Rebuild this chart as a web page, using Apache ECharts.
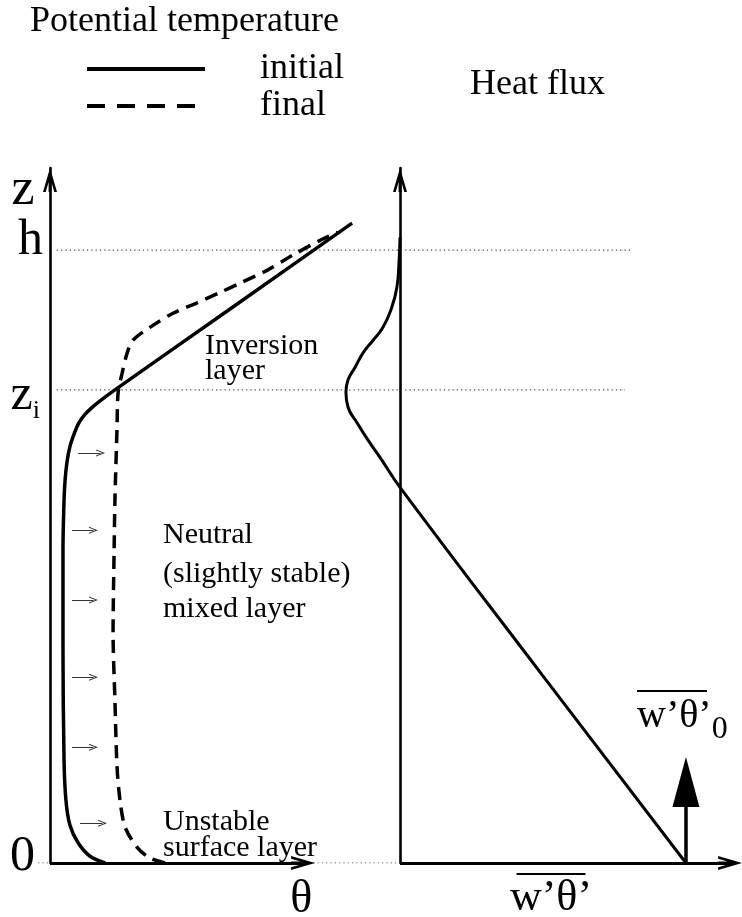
<!DOCTYPE html>
<html><head><meta charset="utf-8">
<script src="https://cdn.jsdelivr.net/npm/echarts@6/dist/echarts.min.js"></script>
<style>html,body{margin:0;padding:0;background:#fff}#c{width:742px;height:917px}</style>
</head><body><div id="c"></div><script>
const FONT = '"Liberation Serif", "Times New Roman", serif';

// Height levels (z, units with h = 10)
const zLevels = [0, 7.72, 10];          // 0, z_i, h
const zTop = 11.34;
// Panel ranges
const thetaRange = [-1, 22];
const fluxRange = [-2, 10];
const thetaAxisEnd = 9.55;   // end of the theta arrow
const fluxAxisEnd = 9.71;    // end of the flux arrow

// Potential temperature, initial profile
const initialTheta = [2.08,1.51,1.06,0.75,0.60,0.53,0.49,0.49,0.53,0.57,0.64,0.75,0.91,1.09,1.32,1.58,1.89,2.45,6.93,11.40];
const initialZ     = [0,0.11,0.33,0.62,1.03,1.68,3.47,5.11,5.92,6.25,6.54,6.79,7.00,7.18,7.32,7.43,7.54,7.72,9.08,10.44];

// Potential temperature, final profile
const finalTheta = [4.34,3.77,3.28,2.83,2.64,2.53,2.45,2.38,2.42,2.45,2.53,2.57,2.72,2.91,3.13,3.77,4.64,5.55,6.42,7.17,8.19,9.17,10.19,10.87];
const finalZ     = [0,0.08,0.26,0.59,1.03,1.57,2.66,3.75,5.11,5.92,7.11,7.67,7.99,8.32,8.53,8.74,8.97,9.14,9.31,9.46,9.67,9.92,10.16,10.29];

// Heat flux profile
const fluxValues = [8.41,4.18,0,-0.53,-0.94,-1.26,-1.53,-1.59,-1.53,-1.32,-1.09,-0.79,-0.50,-0.24,-0.09,-0.03,0];
const fluxZ      = [0,3.07,6.13,6.57,6.90,7.18,7.44,7.68,7.88,8.09,8.32,8.53,8.74,9.07,9.40,9.79,10.21];
const surfaceFlux = 8.41;
const surfaceArrowZ = 1.32;

// Warming arrows in the mixed layer
const arrowZ    = [6.69, 5.43, 4.29, 3.03, 1.89, 0.65];
const arrowFrom = [1.06, 0.83, 0.83, 0.83, 0.83, 1.13];
const arrowTo   = [1.91, 1.64, 1.64, 1.64, 1.64, 1.98];

// Dotted reference levels (theta units of the left panel)
const levelZ    = [10, 7.72, 0];
const levelFrom = [0.26, 0.26, -0.45];
const levelTo   = [21.96, 21.70, 13.2];

const OPEN_ARROW = 'path://M7,0 L14,24 L11.3,24 L7,9.3 L2.7,24 L0,24 Z M5.6,6 L8.4,6 L8.4,24 L5.6,24 Z';
const SMALL_ARROW = 'path://M3.5,0 L7,9 L6,9 L3.5,2.6 L1,9 L0,9 Z';

const zip = (a, b) => a.map((v, i) => [v, b[i]]);

const chart = echarts.init(document.getElementById('c'), null, { renderer: 'canvas' });

const series = [];
levelZ.forEach((z, i) => {
  series.push({
    type: 'line', xAxisIndex: 0, yAxisIndex: 0, silent: true, symbol: 'none', z: 1,
    lineStyle: { color: '#444', width: 1.2, type: [1.2, 3.1] },
    data: [[levelFrom[i], z], [levelTo[i], z]]
  });
});
series.push({
  name: 'initial', type: 'line', xAxisIndex: 0, yAxisIndex: 0, symbol: 'none', smooth: 0.3,
  lineStyle: { color: '#000', width: 3.5 }, itemStyle: { color: '#000' }, z: 3,
  data: zip(initialTheta, initialZ)
});
series.push({
  name: 'final', type: 'line', xAxisIndex: 0, yAxisIndex: 0, symbol: 'none', smooth: 0.3,
  lineStyle: { color: '#000', width: 3.5, type: [13, 8] }, itemStyle: { color: '#000' }, z: 3,
  data: zip(finalTheta, finalZ)
});
// theta axis arrow
series.push({
  type: 'line', xAxisIndex: 0, yAxisIndex: 0, data: [], symbol: 'none', silent: true, z: 4,
  markLine: {
    silent: true, animation: false, symbol: ['none', OPEN_ARROW], symbolSize: [14, 24],
    label: { show: false },
    lineStyle: { color: '#000', width: 3, type: 'solid' },
    data: [[{ coord: [0, 0] }, { coord: [thetaAxisEnd, 0] }]]
  }
});
// warming arrows
series.push({
  type: 'line', xAxisIndex: 0, yAxisIndex: 0, data: [], symbol: 'none', silent: true,
  markLine: {
    silent: true, animation: false, symbol: ['none', SMALL_ARROW], symbolSize: [7, 9],
    label: { show: false },
    lineStyle: { color: '#333', width: 1, type: 'solid' },
    data: arrowZ.map((z, i) => [{ coord: [arrowFrom[i], z] }, { coord: [arrowTo[i], z] }])
  }
});
series.push({
  name: 'heat flux', type: 'line', xAxisIndex: 1, yAxisIndex: 1, symbol: 'none', smooth: 0.5,
  lineStyle: { color: '#000', width: 3 }, z: 3,
  data: zip(fluxValues, fluxZ),
  markLine: {
    silent: true, animation: false, symbol: ['none', 'triangle'], symbolSize: [27, 50],
    lineStyle: { color: '#000', width: 3.5, type: 'solid' },
    label: { show: false },
    data: [[{ coord: [surfaceFlux, 0] }, { coord: [surfaceFlux, surfaceArrowZ] }]]
  }
});
// flux axis arrow
series.push({
  type: 'line', xAxisIndex: 1, yAxisIndex: 1, data: [], symbol: 'none', silent: true, z: 4,
  markLine: {
    silent: true, animation: false, symbol: ['none', OPEN_ARROW], symbolSize: [14, 24],
    label: { show: false },
    lineStyle: { color: '#000', width: 3, type: 'solid' },
    data: [[{ coord: [0, 0] }, { coord: [fluxAxisEnd, 0] }]]
  }
});

const bigLabel = { fontFamily: FONT, fontSize: 50, color: '#000' };
const yLine = { show: true, onZero: true, lineStyle: { color: '#000', width: 2.6 },
  symbol: ['none', OPEN_ARROW], symbolSize: [14, 24], symbolOffset: [0, -12] };
const plainText = size => ({ fontFamily: FONT, fontSize: size, fontWeight: 'normal', color: '#000' });

chart.setOption({
  animation: false,
  textStyle: { fontFamily: FONT },
  title: [
    { text: 'Potential temperature', left: 30, top: 4, padding: 0, textStyle: plainText(36) },
    { text: 'Heat flux', left: 470, top: 67, padding: 0, textStyle: plainText(36) },
    { text: 'Inversion\nlayer', left: 205, top: 334, padding: 0,
      textStyle: Object.assign(plainText(30), { lineHeight: 25 }) },
    { text: 'Neutral', left: 163, top: 520, padding: 0,
      textStyle: Object.assign(plainText(30), { lineHeight: 30 }) },
    { text: '(slightly stable)\nmixed layer', left: 163, top: 557, padding: 0,
      textStyle: Object.assign(plainText(30), { lineHeight: 35 }) },
    { text: 'Unstable\nsurface layer', left: 163, top: 809, padding: 0,
      textStyle: Object.assign(plainText(30), { lineHeight: 26 }) },
    { text: '{bar|}\n{t|w’θ’}{s|0}', left: 637, top: 690, padding: 0,
      textStyle: { fontFamily: FONT, color: '#000', fontWeight: 'normal',
        rich: {
          bar: { width: 70, height: 2, backgroundColor: '#000', lineHeight: 16, fontSize: 2, verticalAlign: 'top' },
          t: { fontSize: 40, lineHeight: 40, fontFamily: FONT, color: '#000', verticalAlign: 'bottom', padding: [0, 0, 10, 0] },
          s: { fontSize: 32, lineHeight: 32, fontFamily: FONT, color: '#000', verticalAlign: 'bottom' }
        } } }
  ],
  legend: {
    orient: 'vertical', left: 85, top: 51, padding: 0, itemGap: 1,
    itemWidth: 118, itemHeight: 20, selectedMode: false,
    itemStyle: { opacity: 0 },
    textStyle: { fontFamily: FONT, fontSize: 36, lineHeight: 34, color: '#000', padding: [0, 0, 0, 50] },
    data: [
      { name: 'initial', itemStyle: { opacity: 0 }, lineStyle: { width: 4, color: '#000', opacity: 1 } },
      { name: 'final', itemStyle: { opacity: 0 }, lineStyle: { width: 4, color: '#000', opacity: 1, type: [18, 12] } }
    ]
  },
  grid: [
    { left: 23.5, top: 168, width: 609.5, height: 695, outerBoundsMode: 'none' },
    { left: 332, top: 168, width: 408, height: 695, outerBoundsMode: 'none' }
  ],
  xAxis: [
    { gridIndex: 0, type: 'value', min: thetaRange[0], max: thetaRange[1],
      axisLine: { show: false }, axisTick: { show: false }, axisLabel: { show: false }, splitLine: { show: false },
      name: 'θ', nameLocation: 'middle', nameGap: 14,
      nameTextStyle: { fontFamily: FONT, fontSize: 46, color: '#000', padding: [0, 54, 0, 0] } },
    { gridIndex: 1, type: 'value', min: fluxRange[0], max: fluxRange[1],
      axisLine: { show: false }, axisTick: { show: false }, axisLabel: { show: false }, splitLine: { show: false },
      name: '{bar|}\n{t|w’θ’}', nameLocation: 'middle', nameGap: 9,
      nameTextStyle: { fontFamily: FONT, color: '#000', padding: [0, 0, 0, 30],
        rich: {
          bar: { width: 69, height: 2, backgroundColor: '#000', lineHeight: 4, fontSize: 2 },
          t: { fontSize: 44, lineHeight: 44, fontFamily: FONT, color: '#000' }
        } } }
  ],
  yAxis: [
    { gridIndex: 0, type: 'value', min: 0, max: zTop,
      axisLine: yLine, axisTick: { show: false }, splitLine: { show: false },
      axisLabel: {
        customValues: zLevels, margin: -19.5, color: '#000', fontFamily: FONT,
        formatter: v => ['{o|0}', '{z|z}{i|i}', '{h|h}'][zLevels.indexOf(v)],
        rich: {
          o: Object.assign({}, bigLabel, { padding: [0, 8, 12, 0] }),
          h: Object.assign({}, bigLabel, { padding: [0, 0, 18, 0] }),
          z: Object.assign({}, bigLabel, { padding: [21, 0, 8, 0], verticalAlign: 'bottom' }),
          i: { fontFamily: FONT, fontSize: 26, color: '#000', verticalAlign: 'bottom', padding: [0, 3, 5, 0] }
        }
      },
      name: 'z', nameLocation: 'end', nameGap: -50,
      nameTextStyle: { fontFamily: FONT, fontSize: 52, color: '#000', padding: [0, 54, 0, 0] } },
    { gridIndex: 1, type: 'value', min: 0, max: zTop,
      axisLine: yLine, axisTick: { show: false }, axisLabel: { show: false }, splitLine: { show: false } }
  ],
  series: series
});
</script></body></html>
